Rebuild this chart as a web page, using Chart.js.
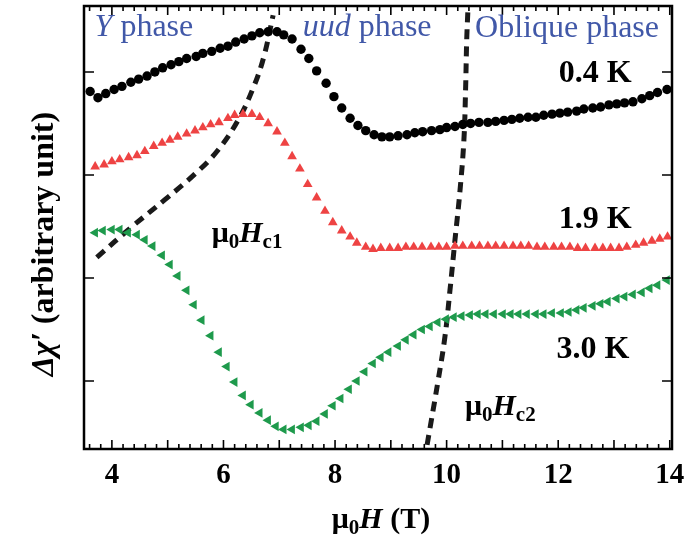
<!DOCTYPE html>
<html>
<head>
<meta charset="utf-8">
<script src="https://cdn.jsdelivr.net/npm/chart.js@4.4.1/dist/chart.umd.min.js"></script>
<style>
  html, body { margin: 0; padding: 0; background: #fff; }
  #wrap { width: 685px; height: 537px; }
</style>
</head>
<body>
<div id="wrap"><canvas id="c" width="685" height="537"></canvas></div>
<script>
// Field sweeps (T) and Δχ′ (arbitrary units) at three temperatures
const temperatures = ['0.4 K', '1.9 K', '3.0 K'];

const field04 = [3.61,3.75,3.89,4.04,4.18,4.34,4.48,4.63,4.77,4.91,5.06,5.20,5.34,5.51,5.63,5.79,5.94,6.08,6.22,6.37,
  6.51,6.65,6.80,6.96,7.08,7.23,7.39,7.53,7.67,7.84,7.98,8.12,8.27,8.41,8.55,8.70,8.84,8.98,9.13,9.29,
  9.43,9.57,9.73,9.88,10.00,10.15,10.29,10.43,10.58,10.74,10.88,11.03,11.17,11.31,11.46,11.60,11.74,11.89,12.03,12.17,
  12.33,12.46,12.62,12.76,12.91,13.05,13.19,13.34,13.50,13.64,13.78,13.95];
const chi04 = [2.81,2.75,2.79,2.83,2.86,2.90,2.93,2.96,3.00,3.04,3.07,3.10,3.13,3.15,3.18,3.20,3.23,3.25,3.29,3.32,
  3.35,3.38,3.39,3.39,3.36,3.32,3.22,3.13,3.01,2.89,2.76,2.65,2.55,2.48,2.43,2.39,2.37,2.37,2.38,2.39,
  2.41,2.42,2.43,2.44,2.46,2.47,2.49,2.50,2.51,2.51,2.52,2.53,2.54,2.55,2.56,2.56,2.58,2.59,2.60,2.61,
  2.62,2.64,2.65,2.66,2.68,2.69,2.70,2.71,2.74,2.77,2.80,2.83];

const field19 = [3.70,3.86,4.00,4.14,4.30,4.45,4.59,4.75,4.90,5.04,5.18,5.34,5.49,5.63,5.77,5.92,6.08,6.20,6.35,6.51,
  6.65,6.80,6.96,7.10,7.23,7.37,7.51,7.67,7.82,7.96,8.12,8.27,8.39,8.55,8.68,
  8.82,8.98,9.13,9.27,9.41,9.56,9.72,9.86,10.00,10.15,10.29,10.45,10.59,10.74,10.88,11.03,11.19,11.33,11.47,11.62,
  11.76,11.92,12.06,12.21,12.35,12.49,12.66,12.80,12.94,13.09,13.23,13.39,13.53,13.68,13.82,13.96];
const chi19 = [2.08,2.10,2.13,2.15,2.17,2.19,2.23,2.28,2.31,2.34,2.37,2.40,2.43,2.46,2.49,2.51,2.55,2.58,2.59,2.59,
  2.56,2.50,2.42,2.31,2.18,2.06,1.91,1.78,1.65,1.54,1.46,1.40,1.34,1.30,1.28,
  1.29,1.29,1.29,1.30,1.30,1.30,1.30,1.30,1.30,1.31,1.31,1.31,1.31,1.31,1.31,1.31,1.31,1.31,1.31,1.30,
  1.30,1.30,1.30,1.30,1.29,1.29,1.29,1.29,1.29,1.29,1.30,1.32,1.34,1.36,1.38,1.40];

const field30 = [3.70,3.84,4.00,4.14,4.29,4.45,4.59,4.73,4.90,5.04,5.18,5.34,5.47,5.61,5.77,5.92,6.06,6.20,6.35,6.49,
  6.65,6.80,6.94,7.08,7.23,7.39,7.53,7.67,7.82,7.96,8.10,8.25,8.39,8.53,8.68,8.82,8.96,9.13,9.27,9.41,
  9.56,9.70,9.84,9.99,10.13,10.27,10.42,10.56,10.70,10.85,11.01,11.15,11.29,11.44,11.60,11.74,11.89,12.05,12.19,12.33,
  12.46,12.62,12.76,12.89,13.05,13.19,13.34,13.50,13.64,13.78,13.95];
const chi30 = [1.44,1.46,1.47,1.47,1.44,1.42,1.37,1.31,1.22,1.13,1.02,0.88,0.74,0.59,0.44,0.28,0.14,-0.01,-0.14,-0.23,
  -0.31,-0.38,-0.44,-0.47,-0.47,-0.45,-0.43,-0.39,-0.32,-0.24,-0.17,-0.08,0.00,0.09,0.17,0.23,0.28,0.34,0.40,0.45,
  0.50,0.53,0.57,0.60,0.62,0.63,0.64,0.65,0.65,0.65,0.65,0.65,0.65,0.65,0.65,0.65,0.66,0.66,0.67,0.69,
  0.71,0.73,0.75,0.77,0.80,0.82,0.84,0.86,0.90,0.93,0.98];

// Phase boundaries μ0Hc1 and μ0Hc2
const hc1Field = [3.73,4.32,4.95,5.49,5.90,6.26,6.53,6.72,6.89];
const hc1Chi   = [1.20,1.48,1.76,2.01,2.24,2.53,2.84,3.14,3.55];
const hc2Field = [9.65,9.84,9.97,10.06,10.15,10.24,10.31,10.34,10.36,10.38];
const hc2Chi   = [-0.62,-0.02,0.43,0.88,1.37,1.85,2.34,2.83,3.31,3.58];

// Axis ranges and ticks
const xMin = 3.5, xMax = 14.04, yMin = -0.66, yMax = 3.64;
const xTickLabels = [4, 6, 8, 10, 12, 14];
const yTicks = [0, 1, 2, 3];

const pts = (xs, ys) => xs.map((v, i) => ({ x: v, y: ys[i] }));

const serif = '"Liberation Serif", "Times New Roman", serif';
const font = (style, size) => `${style} ${size}px ${serif}`;
const BLUE = '#4158A8';

// Text placed in data coordinates: [x, y] is the left end of the baseline
const notes = [
  { at: [3.69, 3.35], runs: [
      { t: 'Y', f: font('italic', 32), c: BLUE },
      { t: ' phase', f: font('normal', 32), c: BLUE } ] },
  { at: [7.42, 3.35], runs: [
      { t: 'uud', f: font('italic', 32), c: BLUE },
      { t: ' phase', f: font('normal', 32), c: BLUE } ] },
  { at: [10.51, 3.34], runs: [
      { t: 'Oblique phase', f: font('normal', 32), c: BLUE } ] },
  { at: [12.01, 2.90], runs: [ { t: temperatures[0], f: font('bold', 32), c: '#000' } ] },
  { at: [12.01, 1.485], runs: [ { t: temperatures[1], f: font('bold', 32), c: '#000' } ] },
  { at: [11.97, 0.223], runs: [ { t: temperatures[2], f: font('bold', 32), c: '#000' } ] },
  { at: [5.79, 1.35], runs: [
      { t: 'μ', f: font('bold', 30), c: '#000' },
      { t: '0', f: font('bold', 21), c: '#000', dy: 6 },
      { t: 'H', f: font('italic bold', 30), c: '#000' },
      { t: 'c1', f: font('bold', 21), c: '#000', dy: 6 } ] },
  { at: [10.33, -0.33], runs: [
      { t: 'μ', f: font('bold', 30), c: '#000' },
      { t: '0', f: font('bold', 21), c: '#000', dy: 6 },
      { t: 'H', f: font('italic bold', 30), c: '#000' },
      { t: 'c2', f: font('bold', 21), c: '#000', dy: 6 } ] }
];

const xTitle = [
  { t: 'μ', f: font('bold', 30), c: '#000' },
  { t: '0', f: font('bold', 21), c: '#000', dy: 6 },
  { t: 'H', f: font('italic bold', 30), c: '#000' },
  { t: ' (T)', f: font('bold', 30), c: '#000' }
];
const yTitle = [
  { t: 'Δχ′', f: font('italic bold', 32), c: '#000' },
  { t: ' (arbitrary unit)', f: font('bold', 32), c: '#000' }
];

function runsWidth(ctx, runs) {
  let w = 0;
  for (const r of runs) { ctx.font = r.f; w += ctx.measureText(r.t).width; }
  return w;
}
function drawRuns(ctx, x, y, runs) {
  let cx = x;
  for (const r of runs) {
    ctx.font = r.f;
    ctx.fillStyle = r.c;
    ctx.fillText(r.t, cx, y + (r.dy || 0));
    cx += ctx.measureText(r.t).width;
  }
}

const framePlugin = {
  id: 'frameAndText',
  afterDatasetsDraw(chart) {
    const { ctx, chartArea: a, scales: { x, y } } = chart;
    ctx.save();
    // inward ticks on all four sides
    ctx.strokeStyle = '#000';
    ctx.lineWidth = 1.6;
    ctx.beginPath();
    for (let i = Math.ceil(xMin * 5); i <= Math.floor(xMax * 5); i++) {
      const px = x.getPixelForValue(i / 5);
      const len = i % 5 === 0 ? 9 : 5;
      ctx.moveTo(px, a.bottom); ctx.lineTo(px, a.bottom - len);
      ctx.moveTo(px, a.top);    ctx.lineTo(px, a.top + len);
    }
    for (const v of yTicks) {
      const py = y.getPixelForValue(v);
      ctx.moveTo(a.left, py);  ctx.lineTo(a.left + 10, py);
      ctx.moveTo(a.right, py); ctx.lineTo(a.right - 10, py);
    }
    ctx.stroke();
    ctx.lineWidth = 2.5;
    ctx.strokeRect(a.left, a.top, a.right - a.left, a.bottom - a.top);

    ctx.textBaseline = 'alphabetic';
    ctx.textAlign = 'left';
    for (const n of notes) {
      drawRuns(ctx, x.getPixelForValue(n.at[0]), y.getPixelForValue(n.at[1]), n.runs);
    }
    // axis titles
    const xw = runsWidth(ctx, xTitle);
    drawRuns(ctx, (a.left + a.right) / 2 + 3 - xw / 2, 528, xTitle);
    const yw = runsWidth(ctx, yTitle);
    ctx.translate(53, 244);
    ctx.rotate(-Math.PI / 2);
    drawRuns(ctx, -yw / 2, 0, yTitle);
    ctx.restore();
  }
};

new Chart(document.getElementById('c'), {
  type: 'scatter',
  data: {
    datasets: [
      { label: temperatures[0], data: pts(field04, chi04), pointStyle: 'circle', pointRadius: 4.7,
        backgroundColor: '#000', borderColor: '#000', borderWidth: 0, showLine: false },
      { label: temperatures[1], data: pts(field19, chi19), pointStyle: 'triangle', pointRadius: 5.6,
        backgroundColor: '#EE4343', borderColor: '#EE4343', borderWidth: 0, showLine: false },
      { label: temperatures[2], data: pts(field30, chi30), pointStyle: 'triangle', rotation: 270, pointRadius: 5.6,
        backgroundColor: '#1E9A4C', borderColor: '#1E9A4C', borderWidth: 0, showLine: false },
      { label: 'Hc1', data: pts(hc1Field, hc1Chi), showLine: true, pointRadius: 0, borderColor: '#1a1a1a',
        borderWidth: 5, borderDash: [10, 7], tension: 0.4, fill: false },
      { label: 'Hc2', data: pts(hc2Field, hc2Chi), showLine: true, pointRadius: 0, borderColor: '#1a1a1a',
        borderWidth: 5, borderDash: [10, 7], tension: 0.4, fill: false }
    ]
  },
  options: {
    responsive: false,
    animation: false,
    devicePixelRatio: 1,
    events: [],
    layout: { padding: { top: 6, right: 13, left: 0, bottom: 0 } },
    plugins: { legend: { display: false }, tooltip: { enabled: false } },
    scales: {
      x: {
        type: 'linear', min: xMin, max: xMax,
        grid: { display: false }, border: { display: false },
        afterBuildTicks: s => { s.ticks = xTickLabels.map(v => ({ value: v })); },
        afterFit: s => { s.height = 88; s.paddingLeft = 0; s.paddingRight = 0; },
        ticks: { color: '#000', font: { family: serif, size: 29, weight: 'bold' }, padding: 1,
                 maxRotation: 0, autoSkip: false }
      },
      y: {
        type: 'linear', min: yMin, max: yMax,
        grid: { display: false }, border: { display: false },
        ticks: { display: false },
        afterFit: s => { s.width = 84; }
      }
    }
  },
  plugins: [framePlugin]
});
</script>
</body>
</html>
